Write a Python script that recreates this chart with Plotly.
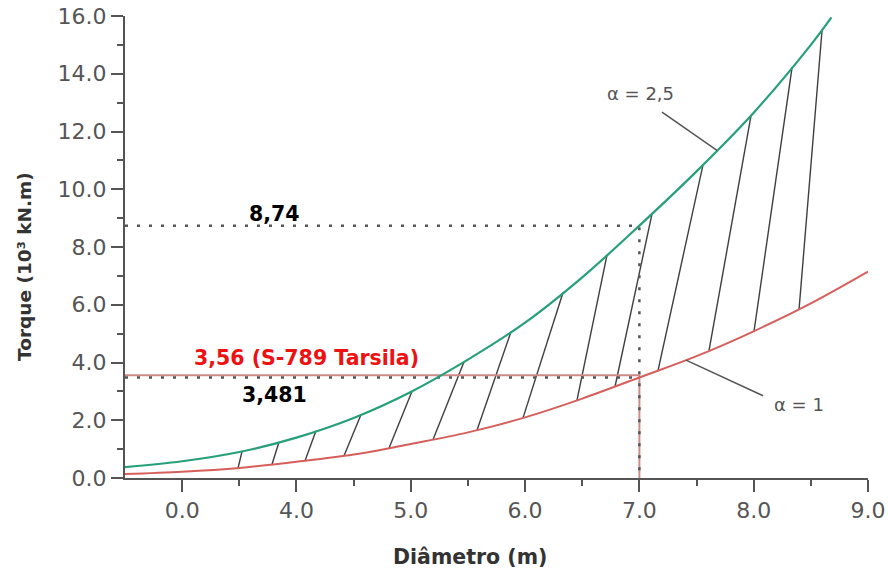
import numpy as np
import plotly.graph_objects as go

# Torque vs. diameter for two alpha coefficients (values in 10^3 kN.m)
diam_alpha25 = [2.5, 3.0, 3.5, 4.0, 4.5, 5.0, 5.5, 6.0, 6.5, 7.0, 7.5, 8.0, 8.5, 8.68]
torque_alpha25 = [0.38, 0.58, 0.90, 1.40, 2.08, 2.98, 4.10, 5.38, 6.95, 8.74, 10.62, 12.65, 15.00, 15.95]

diam_alpha1 = [2.5, 3.0, 3.5, 4.0, 4.5, 5.0, 5.5, 6.0, 6.5, 7.0, 7.5, 8.0, 8.5, 9.0]
torque_alpha1 = [0.14, 0.22, 0.35, 0.56, 0.81, 1.18, 1.58, 2.10, 2.75, 3.481, 4.22, 5.08, 6.05, 7.15]

# Reference diameter and the torques read at it
ref_diameter = 7.0
ref_torque_alpha25 = 8.74
ref_torque_alpha1 = 3.481
tarsila_torque = 3.56
tarsila_name = "S-789 Tarsila"

# Hatch strokes joining the two curves (diameter on upper / lower curve)
hatch_upper_d = [3.524, 3.847, 4.171, 4.565, 5.011, 5.466, 5.877, 6.332, 6.717, 7.111, 7.557, 7.977, 8.336, 8.598]
hatch_lower_d = [3.489, 3.786, 4.075, 4.416, 4.810, 5.195, 5.580, 5.982, 6.454, 6.787, 7.163, 7.609, 8.003, 8.397]

# Axis ticks
x_tickvals = [3, 4, 5, 6, 7, 8, 9]
x_ticktext = ["0.0", "4.0", "5.0", "6.0", "7.0", "8.0", "9.0"]
y_tickvals = [0, 2, 4, 6, 8, 10, 12, 14, 16]

GREEN = "#27a07a"
RED = "#d65f5c"
PALE_RED = "#cf8a88"
AXIS = "#555555"
FONT = "DejaVu Sans"

fig = go.Figure()

# hatch strokes
hx, hy = [], []
for du, dl in zip(hatch_upper_d, hatch_lower_d):
    hx += [du, dl, None]
    hy += [float(np.interp(du, diam_alpha25, torque_alpha25)),
           float(np.interp(dl, diam_alpha1, torque_alpha1)), None]
fig.add_trace(go.Scatter(x=hx, y=hy, mode="lines",
                         line=dict(color="#3f3f3f", width=1.4), hoverinfo="skip"))

x0 = 2.5
dots = "3px,9px"
# Tarsila torque (solid pale red) and its drop to the axis
fig.add_trace(go.Scatter(x=[x0, ref_diameter, ref_diameter], y=[tarsila_torque, tarsila_torque, 0],
                         mode="lines", line=dict(color=PALE_RED, width=2)))
# dotted guide lines
fig.add_trace(go.Scatter(x=[x0, ref_diameter, ref_diameter], y=[ref_torque_alpha25, ref_torque_alpha25, 0],
                         mode="lines", line=dict(color="#555555", width=2.5, dash=dots)))
fig.add_trace(go.Scatter(x=[x0, ref_diameter], y=[ref_torque_alpha1, ref_torque_alpha1],
                         mode="lines", line=dict(color="#555555", width=2.5, dash=dots)))

# curves
fig.add_trace(go.Scatter(x=diam_alpha1, y=torque_alpha1, mode="lines",
                         line=dict(color=RED, width=2, shape="spline")))
fig.add_trace(go.Scatter(x=diam_alpha25, y=torque_alpha25, mode="lines",
                         line=dict(color=GREEN, width=2.2, shape="spline")))

# curve labels with leader lines
lead25_d = 7.679
lead1_d = 7.408
fig.add_shape(type="line", x0=7.198, y0=12.67, x1=lead25_d,
              y1=float(np.interp(lead25_d, diam_alpha25, torque_alpha25)),
              line=dict(color="#555555", width=1.5))
fig.add_shape(type="line", x0=8.082, y0=2.85, x1=lead1_d,
              y1=float(np.interp(lead1_d, diam_alpha1, torque_alpha1)),
              line=dict(color="#555555", width=1.5))

annos = [
    dict(x=7.006, y=13.30, text="α = 2,5", font=dict(family=FONT, size=18, color="#555555")),
    dict(x=8.40, y=2.53, text="α = 1", font=dict(family=FONT, size=18, color="#555555")),
    dict(x=3.808, y=9.14, text=f"<b>{ref_torque_alpha25:.2f}</b>".replace(".", ","),
         font=dict(family=FONT, size=20.5, color="#000000")),
    dict(x=4.089, y=4.14, text=f"<b>{tarsila_torque:.2f} ({tarsila_name})</b>".replace(".", ",", 1),
         font=dict(family=FONT, size=20.5, color="#ee1111")),
    dict(x=3.805, y=2.88, text=f"<b>{ref_torque_alpha1:.3f}</b>".replace(".", ","),
         font=dict(family=FONT, size=20.5, color="#000000")),
]
for a in annos:
    fig.add_annotation(xref="x", yref="y", showarrow=False, xanchor="center", yanchor="middle", **a)

# axis titles
fig.add_annotation(xref="paper", yref="paper", x=-0.1346, y=0.459, text="<b>Torque (10³ kN.m)</b>",
                   textangle=-90, showarrow=False, xanchor="center", yanchor="middle",
                   font=dict(family=FONT, size=18.5, color="#333333"))
fig.add_annotation(xref="paper", yref="paper", x=0.4637, y=-0.171, text="<b>Diâmetro (m)</b>",
                   showarrow=False, xanchor="center", yanchor="middle",
                   font=dict(family=FONT, size=20.5, color="#333333"))

axis_common = dict(showline=True, linecolor=AXIS, linewidth=2, ticks="outside", ticklen=12,
                   tickwidth=2, tickcolor=AXIS, showgrid=False, zeroline=False, automargin=False,
                   tickfont=dict(family=FONT, size=22, color=AXIS))
fig.update_xaxes(range=[2.5, 9.0], tickmode="array", tickvals=x_tickvals, ticktext=x_ticktext,
                 minor=dict(ticks="outside", ticklen=6, tickwidth=2, tickcolor=AXIS,
                            tickvals=[v + 0.5 for v in x_tickvals[:-1]]),
                 **axis_common)
fig.update_yaxes(range=[0, 16], tickmode="array", tickvals=y_tickvals,
                 ticktext=[f"{v:.1f}" for v in y_tickvals],
                 minor=dict(ticks="outside", ticklen=6, tickwidth=2, tickcolor=AXIS,
                            tickvals=[v + 1 for v in y_tickvals[:-1]]),
                 **axis_common)

fig.update_layout(width=888, height=570, margin=dict(l=125, r=20, t=16, b=92),
                  plot_bgcolor="white", paper_bgcolor="white", showlegend=False)

fig.write_html("out.html")
